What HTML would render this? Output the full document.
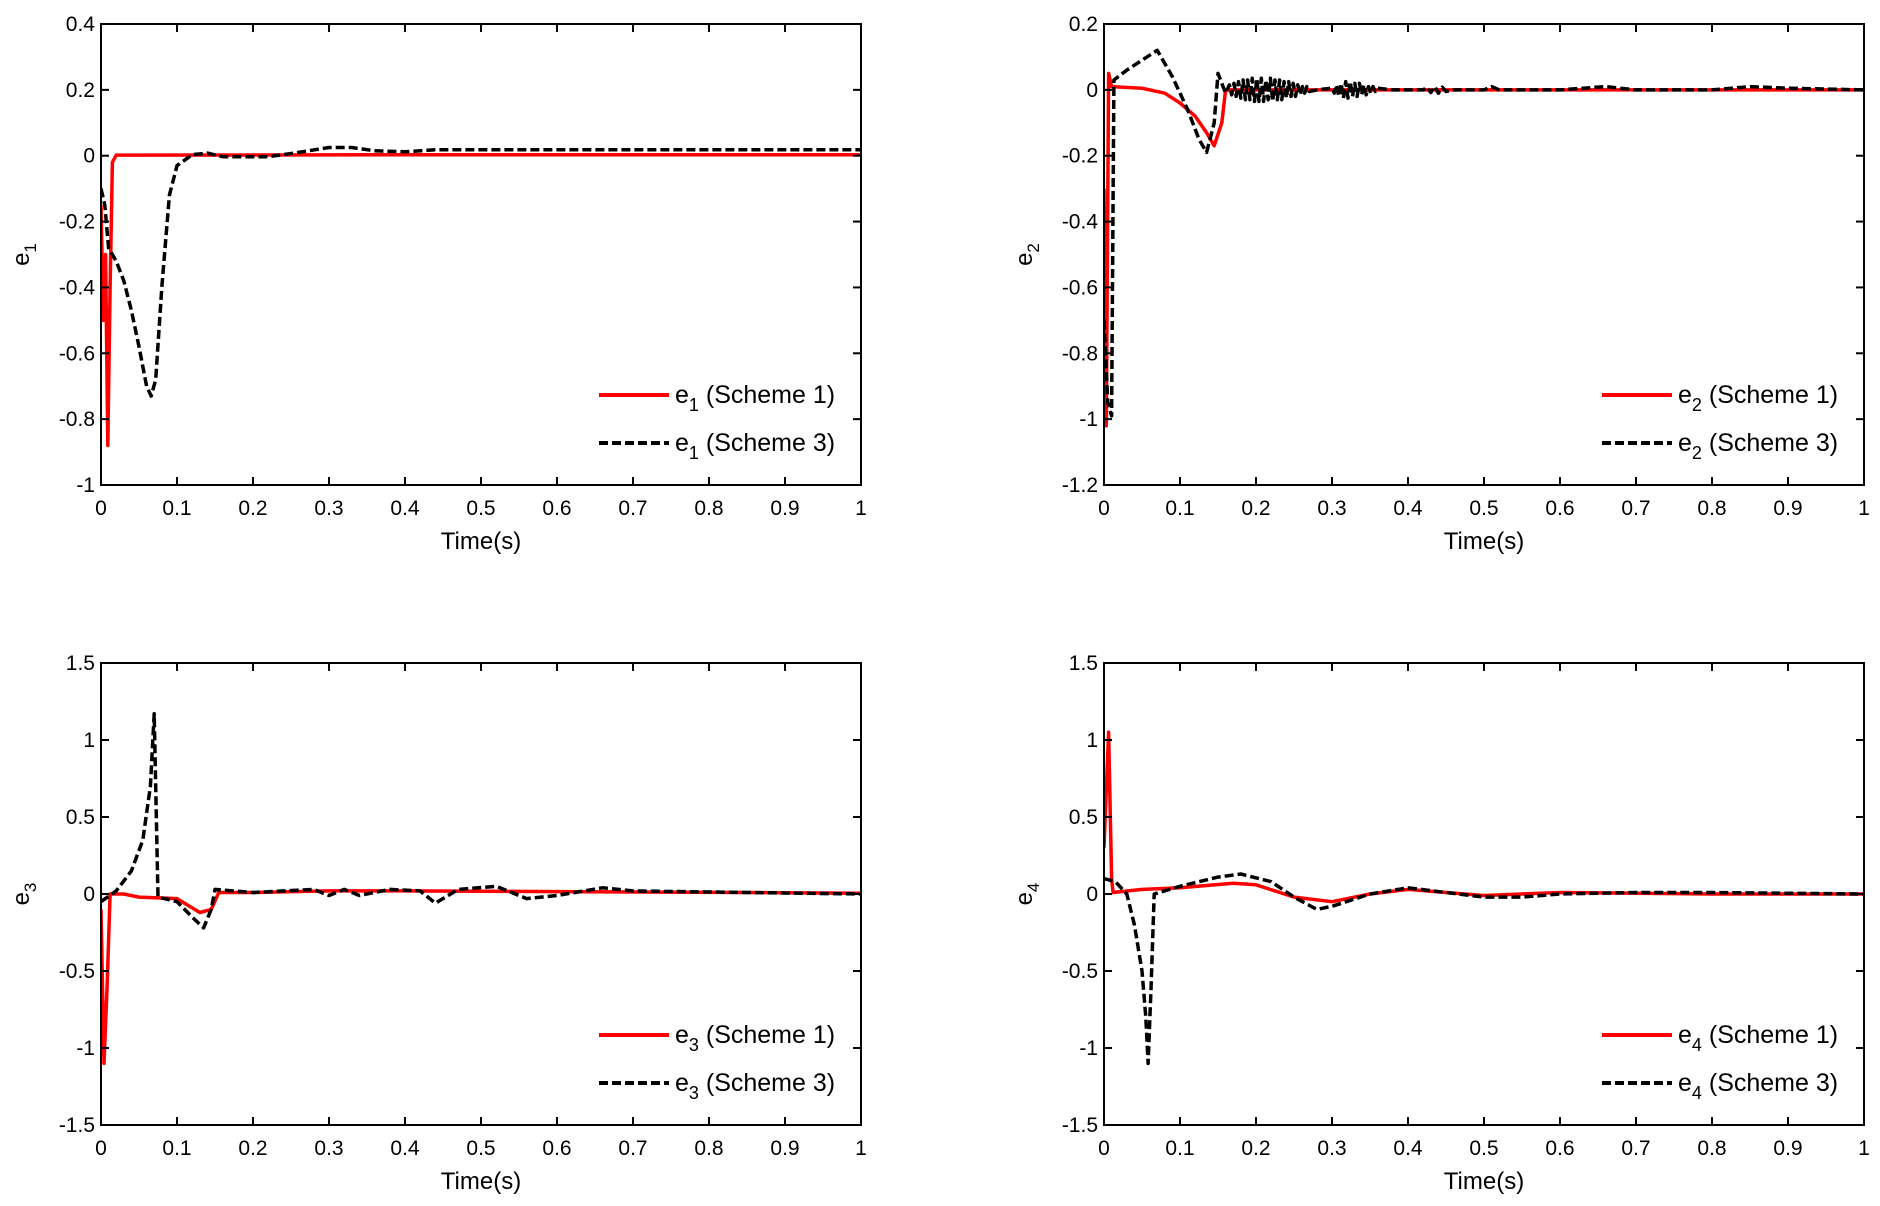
<!DOCTYPE html>
<html><head><meta charset="utf-8"><style>
html,body{margin:0;padding:0;background:#fff;}
svg{display:block;font-family:"Liberation Sans",Arial,sans-serif;}
</style></head><body>
<svg id="fig" width="1880" height="1206" viewBox="0 0 1880 1206" xmlns="http://www.w3.org/2000/svg"></svg>
<script>
// ---- data ----
const xTicks = [0,0.1,0.2,0.3,0.4,0.5,0.6,0.7,0.8,0.9,1];
const xTickLabels = ["0","0.1","0.2","0.3","0.4","0.5","0.6","0.7","0.8","0.9","1"];
const yTicks1 = [0.4,0.2,0,-0.2,-0.4,-0.6,-0.8,-1];
const yTicks2 = [0.2,0,-0.2,-0.4,-0.6,-0.8,-1,-1.2];
const yTicks3 = [1.5,1,0.5,0,-0.5,-1,-1.5];
const e1s1_t = [0,0.003,0.006,0.009,0.012,0.015,0.02,0.5,1];
const e1s1_v = [-0.15,-0.5,-0.3,-0.88,-0.4,-0.02,0.002,0.003,0.003];
const e1s3_t = [0,0.005,0.01,0.02,0.03,0.04,0.05,0.06,0.066,0.072,0.08,0.09,0.1,0.12,0.14,0.16,0.22,0.26,0.3,0.33,0.36,0.4,0.44,1];
const e1s3_v = [-0.1,-0.15,-0.28,-0.32,-0.38,-0.47,-0.58,-0.7,-0.73,-0.68,-0.4,-0.12,-0.03,0.003,0.008,-0.003,-0.003,0.01,0.025,0.025,0.015,0.012,0.018,0.018];
const e2s1_t = [0,0.003,0.006,0.01,0.05,0.08,0.1,0.12,0.135,0.145,0.155,0.16,0.2,1];
const e2s1_v = [-0.3,-1.02,0.05,0.01,0.005,-0.01,-0.04,-0.08,-0.13,-0.17,-0.1,0,0,0];
const e2s3_t = [0,0.005,0.01,0.013,0.03,0.07,0.09,0.11,0.125,0.135,0.145,0.15,0.16,
 0.165,0.168,0.171,0.174,0.177,0.18,0.183,0.186,0.189,0.192,0.195,0.198,0.201,0.204,0.207,0.21,0.213,0.216,0.219,0.222,0.225,0.228,0.231,0.234,0.237,0.24,0.243,0.246,0.249,0.252,0.255,0.258,0.261,0.264,0.267,0.27,
 0.28,0.3,0.303,0.306,0.309,0.312,0.315,0.318,0.321,0.324,0.327,0.33,0.333,0.336,0.339,0.342,0.345,0.348,0.351,0.354,0.357,0.36,0.38,0.42,0.425,0.43,0.435,0.44,0.445,0.45,0.46,0.5,0.51,0.52,0.6,0.66,0.7,0.8,0.85,0.9,1];
const e2s3_v = [-0.7,-0.95,-0.99,0.03,0.06,0.12,0.04,-0.06,-0.15,-0.19,-0.1,0.05,-0.01,
 0.015,-0.015,0.02,-0.02,0.025,-0.025,0.03,-0.03,0.03,-0.03,0.035,-0.035,0.035,-0.035,0.035,-0.035,0.03,-0.03,0.035,-0.035,0.03,-0.03,0.03,-0.03,0.025,-0.025,0.025,-0.02,0.02,-0.02,0.015,-0.015,0.01,-0.01,0.01,-0.005,
 0,0.005,-0.01,0.015,-0.02,0.02,-0.025,0.025,-0.025,0.025,-0.02,0.02,-0.02,0.02,-0.015,0.015,-0.015,0.01,-0.01,0.01,-0.005,0.005,0,0,0.008,-0.008,0.01,-0.01,0.008,-0.005,0,0,0.01,0,0,0.01,0,0,0.01,0.005,0];
const e3s1_t = [0,0.004,0.008,0.012,0.03,0.05,0.1,0.13,0.145,0.155,0.2,0.3,0.4,0.85,1];
const e3s1_v = [-0.1,-1.1,-0.6,0,0,-0.02,-0.03,-0.12,-0.1,0.01,0.01,0.02,0.02,0.01,0.005];
const e3s3_t = [0,0.02,0.04,0.055,0.065,0.07,0.075,0.1,0.12,0.135,0.145,0.15,0.2,0.28,0.3,0.32,0.34,0.38,0.42,0.44,0.47,0.52,0.56,0.6,0.66,0.7,0.85,1];
const e3s3_v = [-0.05,0.02,0.15,0.35,0.7,1.17,-0.02,-0.05,-0.15,-0.22,-0.1,0.03,0.01,0.03,-0.01,0.03,-0.01,0.03,0.02,-0.06,0.03,0.05,-0.03,-0.01,0.04,0.02,0.01,0];
const e4s1_t = [0,0.006,0.01,0.012,0.05,0.1,0.17,0.2,0.25,0.3,0.35,0.4,0.45,0.5,0.6,0.8,1];
const e4s1_v = [0.3,1.05,0.1,0.01,0.03,0.04,0.07,0.06,-0.02,-0.05,0,0.03,0.01,-0.01,0.01,0,0];
const e4s3_t = [0,0.015,0.03,0.04,0.05,0.055,0.058,0.062,0.066,0.1,0.15,0.18,0.22,0.25,0.28,0.3,0.35,0.4,0.45,0.5,0.55,0.6,0.7,0.8,1];
const e4s3_v = [0.1,0.08,0,-0.2,-0.5,-0.8,-1.1,-0.6,0,0.05,0.11,0.13,0.08,-0.02,-0.1,-0.08,0,0.04,0.01,-0.02,-0.02,0,0.01,0.01,0];

const NS="http://www.w3.org/2000/svg";
const svg=document.getElementById('fig');
function el(tag,attrs,parent){const e=document.createElementNS(NS,tag);for(const k in attrs)e.setAttribute(k,attrs[k]);(parent||svg).appendChild(e);return e;}

const panels=[
 {id:1,L:101,R:861,T:24,B:485,ymin:-1,ymax:0.4,yt:yTicks1,s1:[e1s1_t,e1s1_v],s3:[e1s3_t,e1s3_v]},
 {id:2,L:1104,R:1864,T:24,B:485,ymin:-1.2,ymax:0.2,yt:yTicks2,s1:[e2s1_t,e2s1_v],s3:[e2s3_t,e2s3_v]},
 {id:3,L:101,R:861,T:663,B:1125,ymin:-1.5,ymax:1.5,yt:yTicks3,s1:[e3s1_t,e3s1_v],s3:[e3s3_t,e3s3_v]},
 {id:4,L:1104,R:1864,T:663,B:1125,ymin:-1.5,ymax:1.5,yt:yTicks3,s1:[e4s1_t,e4s1_v],s3:[e4s3_t,e4s3_v]}
];
panels.forEach(p=>{
 const g=el('g',{});
 
 
 const X=v=>p.L+v*(p.R-p.L);
 const Y=v=>p.B-(v-p.ymin)/(p.ymax-p.ymin)*(p.B-p.T);
 const clip=el('clipPath',{id:'c'+p.id},g);
 el('rect',{x:p.L,y:p.T,width:p.R-p.L,height:p.B-p.T},clip);
 const lg=el('g',{'clip-path':'url(#c'+p.id+')'},g);
 function lineIn(ts,vs,color,dash,name){
  let d='';ts.forEach((t,i)=>{d+=(i?'L':'M')+X(t).toFixed(1)+' '+Y(vs[i]).toFixed(1);});
  const a={d:d,fill:'none',stroke:color,'stroke-width':3.5,'stroke-linejoin':'round'};
  if(dash)a['stroke-dasharray']=dash;
  const e=el('path',a,lg);
  
  
 }
 lineIn(p.s1[0],p.s1[1],'#ff0000',null,'e'+p.id+'-scheme1-line');
 lineIn(p.s3[0],p.s3[1],'#000000','9 4','e'+p.id+'-scheme3-line');
 const box=el('rect',{x:p.L,y:p.T,width:p.R-p.L,height:p.B-p.T,fill:'none',stroke:'#000','stroke-width':2},g);
 
 
 xTicks.forEach((t,i)=>{
  const x=X(t);
  el('line',{x1:x,x2:x,y1:p.B,y2:p.B-8,stroke:'#000','stroke-width':2},g);
  el('line',{x1:x,x2:x,y1:p.T,y2:p.T+8,stroke:'#000','stroke-width':2},g);
  const tx=el('text',{x:x,y:p.B+30,'font-size':21,'text-anchor':'middle',fill:'#000'},g);
  tx.textContent=xTickLabels[i];
  
  
 });
 p.yt.forEach(v=>{
  const y=Y(v);
  el('line',{x1:p.L,x2:p.L+8,y1:y,y2:y,stroke:'#000','stroke-width':2},g);
  el('line',{x1:p.R,x2:p.R-8,y1:y,y2:y,stroke:'#000','stroke-width':2},g);
  const tx=el('text',{x:p.L-6,y:y+7,'font-size':21,'text-anchor':'end',fill:'#000'},g);
  tx.textContent=String(v);
  
  
 });
 const xt=el('text',{x:(p.L+p.R)/2,y:p.B+64,'font-size':24,'text-anchor':'middle',fill:'#000'},g);
 xt.textContent='Time(s)';
 
 
 const yx=p.L-72, yy=(p.T+p.B)/2;
 const yl=el('text',{x:0,y:0,'font-size':24,fill:'#000',transform:'translate('+yx+','+yy+') rotate(-90)','text-anchor':'middle'},g);
 
 
 yl.innerHTML='e<tspan font-size="17" dy="7">'+p.id+'</tspan>';
 const lx=p.R-262, ly1=p.B-90, ly2=p.B-42;
 [[ly1,'#ff0000',null,'1'],[ly2,'#000','9 4','3']].forEach(r=>{
  const lgE=el('g',{},g);
  
  
  const a={x1:lx,x2:lx+70,y1:r[0],y2:r[0],stroke:r[1],'stroke-width':4};
  if(r[2])a['stroke-dasharray']=r[2];
  el('line',a,lgE);
  const t=el('text',{x:lx+76,y:r[0]+8,'font-size':25,fill:'#000'},lgE);
  t.innerHTML='e<tspan font-size="18" dy="8">'+p.id+'</tspan><tspan dy="-8"> (Scheme '+r[3]+')</tspan>';
 });
});
</script>
</body></html>
